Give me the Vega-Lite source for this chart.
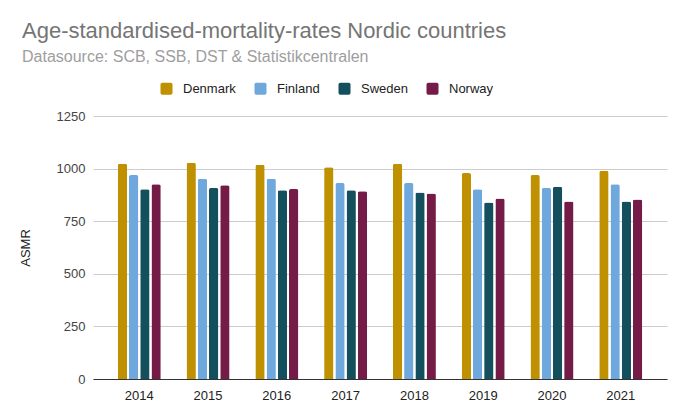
{
  "$schema": "https://vega.github.io/schema/vega-lite/v6.json",
  "autosize": "none",
  "padding": {"left": 93, "top": 116, "right": 13, "bottom": 41},
  "width": 574,
  "height": 263,
  "background": "white",
  "title": {
    "text": "Age-standardised-mortality-rates Nordic countries",
    "subtitle": "Datasource: SCB, SSB, DST & Statistikcentralen",
    "anchor": "start",
    "frame": "group",
    "dx": -71,
    "font": "Liberation Sans",
    "fontSize": 22,
    "fontWeight": "normal",
    "color": "#757575",
    "subtitleFont": "Liberation Sans",
    "subtitleFontSize": 16,
    "subtitleColor": "#9e9e9e",
    "subtitlePadding": 6,
    "offset": 16
  },
  "config": {
    "view": {"stroke": null},
    "font": "Liberation Sans"
  },
  "data": {
    "values": [
      {"Year": "2014", "Country": "Denmark", "ASMR": 1023},
      {"Year": "2014", "Country": "Finland", "ASMR": 969},
      {"Year": "2014", "Country": "Sweden", "ASMR": 902},
      {"Year": "2014", "Country": "Norway", "ASMR": 926},
      {"Year": "2015", "Country": "Denmark", "ASMR": 1028},
      {"Year": "2015", "Country": "Finland", "ASMR": 952},
      {"Year": "2015", "Country": "Sweden", "ASMR": 908},
      {"Year": "2015", "Country": "Norway", "ASMR": 921},
      {"Year": "2016", "Country": "Denmark", "ASMR": 1018},
      {"Year": "2016", "Country": "Finland", "ASMR": 952},
      {"Year": "2016", "Country": "Sweden", "ASMR": 897},
      {"Year": "2016", "Country": "Norway", "ASMR": 903},
      {"Year": "2017", "Country": "Denmark", "ASMR": 1006},
      {"Year": "2017", "Country": "Finland", "ASMR": 931},
      {"Year": "2017", "Country": "Sweden", "ASMR": 897},
      {"Year": "2017", "Country": "Norway", "ASMR": 892},
      {"Year": "2018", "Country": "Denmark", "ASMR": 1023},
      {"Year": "2018", "Country": "Finland", "ASMR": 931},
      {"Year": "2018", "Country": "Sweden", "ASMR": 887},
      {"Year": "2018", "Country": "Norway", "ASMR": 882},
      {"Year": "2019", "Country": "Denmark", "ASMR": 979},
      {"Year": "2019", "Country": "Finland", "ASMR": 902},
      {"Year": "2019", "Country": "Sweden", "ASMR": 839},
      {"Year": "2019", "Country": "Norway", "ASMR": 858},
      {"Year": "2020", "Country": "Denmark", "ASMR": 969},
      {"Year": "2020", "Country": "Finland", "ASMR": 908},
      {"Year": "2020", "Country": "Sweden", "ASMR": 914},
      {"Year": "2020", "Country": "Norway", "ASMR": 844},
      {"Year": "2021", "Country": "Denmark", "ASMR": 990},
      {"Year": "2021", "Country": "Finland", "ASMR": 926},
      {"Year": "2021", "Country": "Sweden", "ASMR": 844},
      {"Year": "2021", "Country": "Norway", "ASMR": 853}
    ]
  },
  "mark": {"type": "bar", "cornerRadiusTopLeft": 2, "cornerRadiusTopRight": 2},
  "encoding": {
    "x": {
      "field": "Year",
      "type": "ordinal",
      "scale": {"paddingInner": 0.375, "paddingOuter": 0.36},
      "axis": {
        "title": null,
        "labelAngle": 0,
        "labelFontSize": 13,
        "labelColor": "#222222",
        "labelPadding": 10,
        "ticks": false,
        "domainColor": "#333333",
        "domainWidth": 1
      }
    },
    "xOffset": {
      "field": "Country",
      "type": "nominal",
      "sort": ["Denmark", "Finland", "Sweden", "Norway"],
      "scale": {"paddingInner": 0.17, "paddingOuter": 0}
    },
    "y": {
      "field": "ASMR",
      "type": "quantitative",
      "scale": {"domain": [0, 1250]},
      "axis": {
        "title": "ASMR",
        "titleFontSize": 13,
        "titleFontWeight": "normal",
        "titleColor": "#222222",
        "titlePadding": 24,
        "values": [0, 250, 500, 750, 1000, 1250],
        "format": "d",
        "labelFontSize": 13,
        "labelColor": "#444444",
        "labelPadding": 8,
        "ticks": false,
        "domain": false,
        "gridColor": "#cccccc"
      }
    },
    "color": {
      "field": "Country",
      "type": "nominal",
      "scale": {
        "domain": ["Denmark", "Finland", "Sweden", "Norway"],
        "range": ["#bf9000", "#6fa8dc", "#134f5c", "#741b47"]
      },
      "legend": {
        "title": null,
        "orient": "none",
        "direction": "horizontal",
        "legendX": 67,
        "legendY": -34,
        "symbolType": "M -1 -0.7 Q -1 -1 -0.7 -1 L 0.7 -1 Q 1 -1 1 -0.7 L 1 0.7 Q 1 1 0.7 1 L -0.7 1 Q -1 1 -1 0.7 Z",
        "symbolSize": 144,
        "symbolStrokeWidth": 0,
        "labelFontSize": 13,
        "labelColor": "#222222",
        "labelOffset": 10,
        "columnPadding": 18
      }
    }
  }
}
